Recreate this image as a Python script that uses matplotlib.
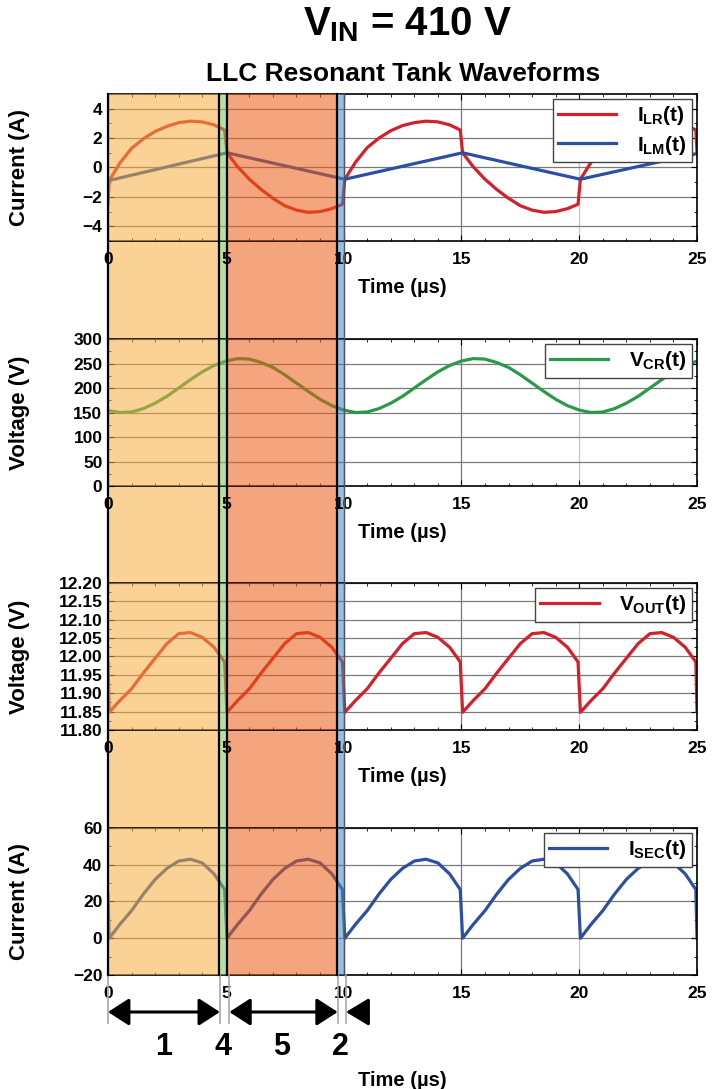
import matplotlib
matplotlib.use('Agg')
import matplotlib.pyplot as plt
from matplotlib import transforms
from matplotlib.patches import Rectangle, FancyArrowPatch
from matplotlib.lines import Line2D
from matplotlib.ticker import MultipleLocator, FormatStrFormatter

plt.rcParams['font.family'] = ['Liberation Sans', 'DejaVu Sans']
plt.rcParams['font.weight'] = 'bold'
plt.rcParams['axes.labelweight'] = 'bold'
plt.rcParams['mathtext.fontset'] = 'custom'
plt.rcParams['mathtext.rm'] = 'Liberation Sans:bold'
plt.rcParams['mathtext.it'] = 'Liberation Sans:bold'
plt.rcParams['mathtext.bf'] = 'Liberation Sans:bold'

# time base for the switched waveforms (µs)
t_sw = [0, 0.05, 0.5, 1, 1.5, 2, 2.5, 3, 3.5, 4, 4.5, 4.95,
        5.05, 5.5, 6, 6.5, 7, 7.5, 8, 8.5, 9, 9.5, 9.95,
        10.05, 10.5, 11, 11.5, 12, 12.5, 13, 13.5, 14, 14.5, 14.95,
        15.05, 15.5, 16, 16.5, 17, 17.5, 18, 18.5, 19, 19.5, 19.95,
        20.05, 20.5, 21, 21.5, 22, 22.5, 23, 23.5, 24, 24.5, 24.95, 25]

# resonant inductor current (A)
i_lr = [-2.5,
        -0.9, 0.3, 1.3, 1.95, 2.45, 2.8, 3.05, 3.15, 3.1, 2.9, 2.55,
        1.0, 0.05, -0.8, -1.5, -2.1, -2.6, -2.9, -3.05, -3.0, -2.8, -2.5,
        -0.8, 0.35, 1.35, 2.0, 2.5, 2.85, 3.05, 3.15, 3.1, 2.9, 2.55,
        1.0, 0.05, -0.8, -1.5, -2.1, -2.6, -2.9, -3.05, -3.0, -2.8, -2.5,
        -0.8, 0.35, 1.35, 2.0, 2.5, 2.85, 3.05, 3.15, 3.1, 2.9, 2.55,
        1.0]

# magnetizing current (A), triangular
t_lm = [0, 5.05, 10.05, 15.05, 20.05, 25]
i_lm = [-0.9, 1.0, -0.8, 1.0, -0.8, 0.95]

# output voltage (V)
v_out = [11.985,
         11.848, 11.88, 11.912, 11.955, 11.995, 12.035, 12.062, 12.065, 12.052, 12.025, 11.985,
         11.848, 11.88, 11.912, 11.955, 11.995, 12.035, 12.062, 12.065, 12.052, 12.025, 11.985,
         11.848, 11.88, 11.912, 11.955, 11.995, 12.035, 12.062, 12.065, 12.052, 12.025, 11.985,
         11.848, 11.88, 11.912, 11.955, 11.995, 12.035, 12.062, 12.065, 12.052, 12.025, 11.985,
         11.848, 11.88, 11.912, 11.955, 11.995, 12.035, 12.062, 12.065, 12.052, 12.025, 11.985,
         11.85]

# secondary current (A)
i_sec = [24,
         0, 7.5, 15, 24, 32, 38, 42, 43, 41, 35, 26.5,
         0, 7.5, 15, 24, 32, 38, 42, 43, 41, 35, 26.5,
         0, 7.5, 15, 24, 32, 38, 42, 43, 41, 35, 26.5,
         0, 7.5, 15, 24, 32, 38, 42, 43, 41, 35, 26.5,
         0, 7.5, 15, 24, 32, 38, 42, 43, 41, 35, 26.5,
         0]

# resonant capacitor voltage (V), every 0.5 µs
t_cr = [i * 0.5 for i in range(51)]
v_cr = [154, 150, 151, 158, 169, 183, 200, 217, 233, 246, 255, 260, 259, 252, 242, 227, 210, 193, 177, 164, 155,
        150, 151, 158, 169, 183, 200, 217, 233, 246, 255, 260, 259, 252, 242, 227, 210, 193, 177, 164, 155,
        150, 151, 158, 169, 183, 200, 217, 233, 246, 255]

# operating intervals of the first switching period
phase_t = [0, 4.7, 5.05, 9.72, 10.0]
phase_names = ['1', '4', '5', '2']
phase_colors = ['#F6AD40', '#80C849', '#ED5B13', '#4089C8']
marker_t = [0, 4.75, 5.15, 9.75, 10.1]

RED = '#D4202A'
BLUE = '#2A4FA3'
GREEN = '#2A9A47'
SHADE_ALPHA = 0.55

fig = plt.figure(figsize=(7.22, 10.89), dpi=100)
left, width, height = 0.1496, 0.8158, 0.135
bottoms = [0.7787, 0.5537, 0.3297, 0.1047]

panels = [
    dict(ylim=(-5, 5), ticks=[-4, -2, 0, 2, 4], minor=1, ylabel='Current (A)', fmt=None,
         series=[(t_sw, i_lr, RED, r'$I_{LR}(t)$'), (t_lm, i_lm, BLUE, r'$I_{LM}(t)$')]),
    dict(ylim=(0, 300), ticks=list(range(0, 301, 50)), minor=25, ylabel='Voltage (V)', fmt=None,
         series=[(t_cr, v_cr, GREEN, r'$V_{CR}(t)$')]),
    dict(ylim=(11.8, 12.2), ticks=[11.80, 11.85, 11.90, 11.95, 12.00, 12.05, 12.10, 12.15, 12.20],
         minor=0.025, ylabel='Voltage (V)', fmt='%.2f',
         series=[(t_sw, v_out, RED, r'$V_{OUT}(t)$')]),
    dict(ylim=(-20, 60), ticks=[-20, 0, 20, 40, 60], minor=10, ylabel='Current (A)', fmt=None,
         series=[(t_sw, i_sec, BLUE, r'$I_{SEC}(t)$')]),
]

axes = []
for b, p in zip(bottoms, panels):
    ax = fig.add_axes([left, b, width, height])
    for x, y, c, lab in p['series']:
        ax.plot(x, y, color=c, lw=2.3, label=lab, zorder=2)
    for k in range(len(phase_colors)):
        ax.axvspan(phase_t[k], phase_t[k + 1], color=phase_colors[k], alpha=SHADE_ALPHA, lw=0, zorder=3)
    ax.set_xlim(0, 25)
    ax.set_ylim(*p['ylim'])
    ax.set_xticks([0, 5, 10, 15, 20, 25])
    ax.set_yticks(p['ticks'])
    if p['fmt']:
        ax.yaxis.set_major_formatter(FormatStrFormatter(p['fmt']))
    ax.xaxis.set_minor_locator(MultipleLocator(1))
    ax.yaxis.set_minor_locator(MultipleLocator(p['minor']))
    ax.grid(True, which='major', color='#7a7a7a', lw=0.9)
    ax.get_xgridlines()[4].set_color('#c4c4c4')
    ax.tick_params(which='both', direction='in', top=True, right=True, labelsize=12.5)
    ax.tick_params(which='major', length=4)
    ax.tick_params(which='minor', length=2.5)
    ax.tick_params(axis='x', pad=8)
    ax.tick_params(axis='y', pad=4)
    for s in ax.spines.values():
        s.set_linewidth(1.2)
    ax.set_ylabel(p['ylabel'], fontsize=16)
    ax.yaxis.set_label_coords(-0.132, 0.5)
    ax.set_xlabel('Time (µs)', fontsize=14.5, labelpad=8)
    leg = ax.legend(loc='upper right', fontsize=15, handlelength=2.8, handletextpad=1.0,
                    borderpad=0.25, labelspacing=0.3, borderaxespad=0.25, fancybox=False,
                    framealpha=1, edgecolor='#444444')
    leg.get_frame().set_linewidth(1.0)
    axes.append(ax)

axes[-1].xaxis.labelpad = 50

# interval shading across the whole stack
trans = transforms.blended_transform_factory(axes[-1].transData, fig.transFigure)
y0 = axes[-1].get_position().y0
y1 = axes[0].get_position().y1
for k in range(len(phase_colors)):
    fig.add_artist(Rectangle((phase_t[k], y0), phase_t[k + 1] - phase_t[k], y1 - y0,
                             transform=trans, facecolor=phase_colors[k], alpha=SHADE_ALPHA,
                             lw=0, zorder=-1))
for t in phase_t[:-1]:
    fig.add_artist(Line2D([t, t], [y0, y1], transform=trans, color='black', lw=1.6, zorder=5))
fig.add_artist(Line2D([phase_t[-1]] * 2, [y0, y1], transform=trans, color='#555555', lw=1.0, zorder=5))

# interval markers under the bottom panel
y_low = 1 - 1023 / 1089
for t in marker_t:
    fig.add_artist(Line2D([t, t], [y0, y_low], transform=trans, color='#a8a8a8', lw=1.2, zorder=4))
ya = 1 - 1012 / 1089
for t0, t1 in [(marker_t[0], marker_t[1]), (marker_t[2], marker_t[3])]:
    fig.add_artist(FancyArrowPatch((t0, ya), (t1, ya), transform=trans,
                                   arrowstyle='<|-|>,head_length=0.65,head_width=0.42',
                                   mutation_scale=20, lw=2.2, color='black',
                                   shrinkA=0, shrinkB=0, zorder=6))
fig.add_artist(FancyArrowPatch((11.0, ya), (marker_t[4], ya), transform=trans,
                               arrowstyle='-|>,head_length=0.7,head_width=0.42',
                               mutation_scale=20, lw=2.2, color='black',
                               shrinkA=0, shrinkB=0, zorder=6))
yl = 1 - 1047 / 1089
for k, name in enumerate(phase_names):
    fig.text((phase_t[k] + phase_t[k + 1]) / 2, yl, name, transform=trans,
             ha='center', va='center', fontsize=22)

fig.text(0.5637, 1 - 25 / 1089, r'$V_{IN}$ = 410 V', ha='center', va='center', fontsize=29)
fig.text(0.558, 1 - 74 / 1089, 'LLC Resonant Tank Waveforms', ha='center', va='center', fontsize=19)

fig.savefig('out.png', dpi=100)
